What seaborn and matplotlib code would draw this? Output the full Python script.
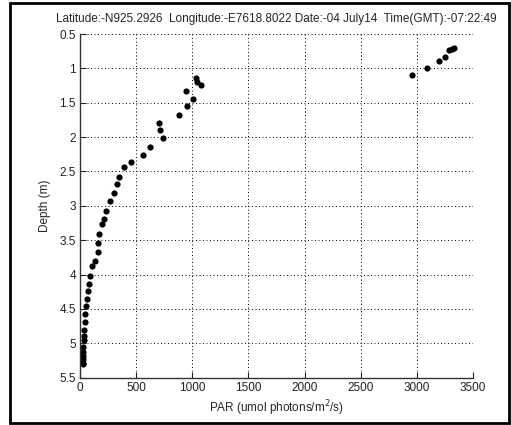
import numpy as np
import pandas as pd
import seaborn as sns
import matplotlib
matplotlib.use("Agg")
import matplotlib.pyplot as plt
from matplotlib.patches import Rectangle

# PAR profile (surface to bottom)
par = [3331, 3313, 3283, 3254, 3200, 3088, 2957,
       1033, 1039, 1080, 943, 1003, 952, 884, 705, 714, 735, 619, 562,
       458, 393, 348, 330, 307, 271, 235, 217, 193, 172, 163, 157, 135,
       111, 93, 78, 69, 60, 51, 48, 42, 36, 36, 33, 24, 24, 24, 24, 24, 24]
depth = [0.71, 0.72, 0.74, 0.84, 0.90, 0.99, 1.09,
         1.145, 1.20, 1.24, 1.33, 1.45, 1.55, 1.68, 1.80, 1.89, 2.02, 2.14, 2.26,
         2.36, 2.44, 2.58, 2.68, 2.82, 2.93, 3.08, 3.19, 3.27, 3.41, 3.54, 3.67, 3.80,
         3.88, 4.02, 4.13, 4.24, 4.36, 4.45, 4.57, 4.69, 4.80, 4.89, 4.95, 5.06, 5.12,
         5.18, 5.23, 5.28, 5.30]

xticks = [0, 500, 1000, 1500, 2000, 2500, 3000, 3500]
yticks = [0.5, 1, 1.5, 2, 2.5, 3, 3.5, 4, 4.5, 5, 5.5]
titulo = "Latitude:-N925.2926  Longitude:-E7618.8022 Date:-04 July14  Time(GMT):-07:22:49"

df = pd.DataFrame({"PAR": par, "Depth": depth})

sns.set_style("white")
plt.rcParams['font.family'] = ['Liberation Sans', 'DejaVu Sans']

fig = plt.figure(figsize=(5.11, 4.25), dpi=100)
ax = fig.add_axes([0.1566, 0.1113, 0.769, 0.8087])

sns.scatterplot(data=df, x="PAR", y="Depth", ax=ax, color="black",
                s=20, edgecolor="black", linewidth=0)

ax.set_xlim(0, 3500)
ax.set_ylim(5.5, 0.5)
ax.set_xticks(xticks)
ax.set_yticks(yticks)
ax.set_yticklabels([("%g" % v) for v in yticks])
ax.grid(True, color="black", linestyle=(0, (1, 2.6)), linewidth=0.7)

for s in ["top", "right"]:
    ax.spines[s].set_visible(False)
for s in ["left", "bottom"]:
    ax.spines[s].set_color("#333333")
    ax.spines[s].set_linewidth(1.0)
ax.tick_params(direction="in", length=4, width=0.8, labelsize=8.5,
               colors="#222222", left=True, bottom=True, pad=3)

ax.set_xlabel("PAR (umol photons/m$^2$/s)", fontsize=8.5, labelpad=3)
ax.set_ylabel("Depth (m)", fontsize=8.5, labelpad=6)
ax.set_title(titulo, fontsize=8.5, pad=9)

# marco negro alrededor de la figura
fig.patches.append(Rectangle((0.02, 0.004), 0.976, 0.989, transform=fig.transFigure,
                             fill=False, edgecolor="black", linewidth=2))

fig.savefig("out.png", dpi=100)
